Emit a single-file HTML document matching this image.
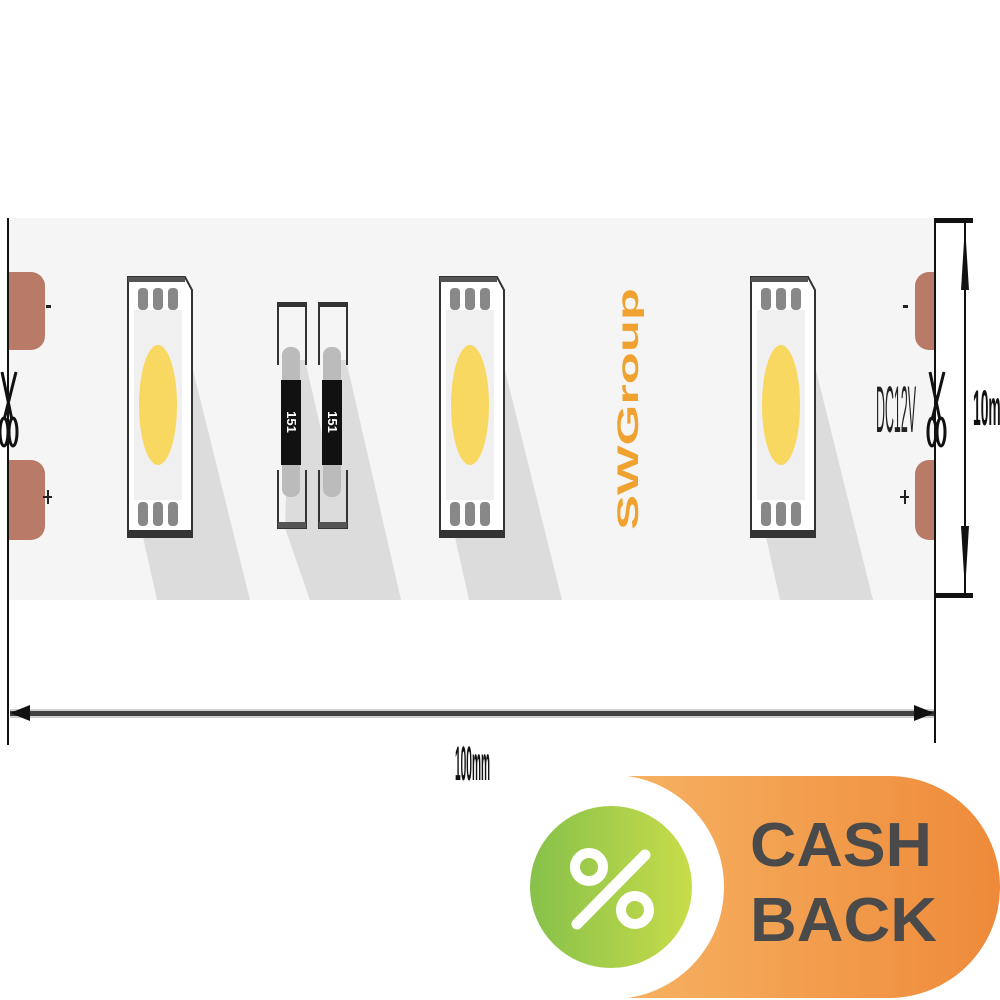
<!DOCTYPE html>
<html><head><meta charset="utf-8"><style>html,body{margin:0;padding:0;background:#fff}svg{display:block}</style></head>
<body>
<svg width="1000" height="1000" viewBox="0 0 1000 1000" xmlns="http://www.w3.org/2000/svg" font-family="Liberation Sans, sans-serif">
<defs>
<linearGradient id="og" x1="0" x2="1"><stop offset="0" stop-color="#f6b262"/><stop offset="1" stop-color="#ee8a3a"/></linearGradient>
<linearGradient id="gg" x1="0" x2="1"><stop offset="0" stop-color="#86c14a"/><stop offset="1" stop-color="#c8dc4a"/></linearGradient>
<g id="led">
<polygon points="180,318 250,600 157,600 143,537 186,537" fill="#dcdcdc"/>
<path d="M128,277 H185 L192,290 V537 H128 Z" fill="#fff" stroke="#333" stroke-width="2"/>
<rect x="128" y="277" width="57" height="5" fill="#555"/>
<rect x="128" y="530" width="64" height="6" fill="#333"/>
<rect x="134" y="310" width="48" height="190" fill="#f0f0f0"/>
<g fill="#888"><rect x="138" y="288" width="10" height="22" rx="4"/><rect x="153" y="288" width="10" height="22" rx="4"/><rect x="168" y="288" width="10" height="22" rx="4"/>
<rect x="138" y="502" width="10" height="24" rx="4"/><rect x="153" y="502" width="10" height="24" rx="4"/><rect x="168" y="502" width="10" height="24" rx="4"/></g>
<ellipse cx="158" cy="405" rx="19" ry="60" fill="#f8d860"/>
</g>
<g id="res">
<polygon points="290,360 305,360 360,600 310,600 285,528" fill="#dcdcdc"/>
<path d="M278,365 V303 H306 V365 M278,470 V528 H306 V470" fill="none" stroke="#333" stroke-width="2"/>
<rect x="278" y="302" width="28" height="5" fill="#333"/>
<rect x="278" y="522" width="28" height="6" fill="#555"/>
<rect x="282" y="347" width="18" height="150" rx="8" fill="#bbb"/>
<rect x="281" y="380" width="20" height="85" fill="#111"/>
<text x="0" y="0" transform="translate(287,422) rotate(90)" fill="#fff" font-size="13" font-weight="bold" text-anchor="middle">151</text>
</g>
</defs>
<rect x="8" y="218" width="927" height="382" fill="#f5f5f5"/>
<!-- pads -->
<g fill="#b97b68"><rect x="-10" y="272" width="55" height="78" rx="14"/><rect x="-10" y="460" width="55" height="80" rx="14"/>
<rect x="915" y="272" width="40" height="78" rx="14"/><rect x="915" y="460" width="40" height="80" rx="14"/></g>
<rect x="935" y="218" width="65" height="382" fill="#fff"/>
<rect x="0" y="218" width="8" height="382" fill="#fff"/>
<g fill="#222"><rect x="46" y="305" width="5" height="3"/><rect x="47" y="490" width="2" height="14"/><rect x="43" y="496" width="9" height="2"/>
<rect x="903" y="305" width="5" height="3"/><rect x="904" y="490" width="2" height="14"/><rect x="900" y="496" width="9" height="2"/></g>
<use href="#led"/>
<use href="#led" x="312"/>
<use href="#led" x="623"/>
<use href="#res"/>
<use href="#res" x="41"/>
<text x="0" y="0" transform="translate(638,530) rotate(-90)" font-size="30" font-weight="bold" fill="#f0a230" textLength="242" lengthAdjust="spacingAndGlyphs">SWGroup</text>
<text x="876" y="432" font-size="66" fill="#222" textLength="40" lengthAdjust="spacingAndGlyphs">DC12V</text>
<!-- scissors -->
<g stroke="#111" stroke-width="3" fill="none">
<path d="M2,372 L12,420 M16,372 L4,420"/><ellipse cx="4" cy="432" rx="4" ry="14"/><ellipse cx="13" cy="432" rx="4" ry="14"/>
<path d="M930,372 L940,420 M944,372 L932,420"/><ellipse cx="932" cy="432" rx="4" ry="14"/><ellipse cx="941" cy="432" rx="4" ry="14"/>
</g>
<!-- dimension lines -->
<rect x="7" y="218" width="2" height="527" fill="#111"/>
<rect x="934" y="218" width="2" height="525" fill="#111"/>
<rect x="935" y="218" width="38" height="5" fill="#111"/>
<rect x="935" y="593" width="38" height="5" fill="#111"/>
<rect x="964" y="223" width="2" height="370" fill="#111"/>
<polygon points="965,225 961,290 969,290" fill="#111"/>
<polygon points="965,591 961,526 969,526" fill="#111"/>
<rect x="10" y="711" width="924" height="5" fill="#111"/>
<rect x="10" y="709" width="924" height="9" fill="#888" opacity="0.4"/>
<polygon points="10,713 30,705 30,721" fill="#111"/>
<polygon points="934,713 914,705 914,721" fill="#111"/>
<text x="455" y="780" font-size="48" font-weight="bold" fill="#111" textLength="35" lengthAdjust="spacingAndGlyphs">100mm</text>
<text x="973" y="425" font-size="50" font-weight="bold" fill="#111" textLength="40" lengthAdjust="spacingAndGlyphs">10mm</text>
<!-- cashback -->
<path d="M620,776 H889 A111,111 0 0 1 889,998 H620 Z" fill="url(#og)"/>
<circle cx="612" cy="887" r="112" fill="#fff"/>
<circle cx="611" cy="887" r="81" fill="url(#gg)"/>
<g stroke="#fff" fill="none" stroke-linecap="round"><line x1="645" y1="855" x2="577" y2="924" stroke-width="11"/>
<circle cx="589" cy="867" r="14" stroke-width="10"/><circle cx="635" cy="910" r="14" stroke-width="10"/></g>
<text x="750" y="866" font-size="62" font-weight="bold" fill="#4a4a4a" textLength="182" lengthAdjust="spacingAndGlyphs">CASH</text>
<text x="750" y="941" font-size="62" font-weight="bold" fill="#4a4a4a" textLength="187" lengthAdjust="spacingAndGlyphs">BACK</text>
</svg>
</body></html>
